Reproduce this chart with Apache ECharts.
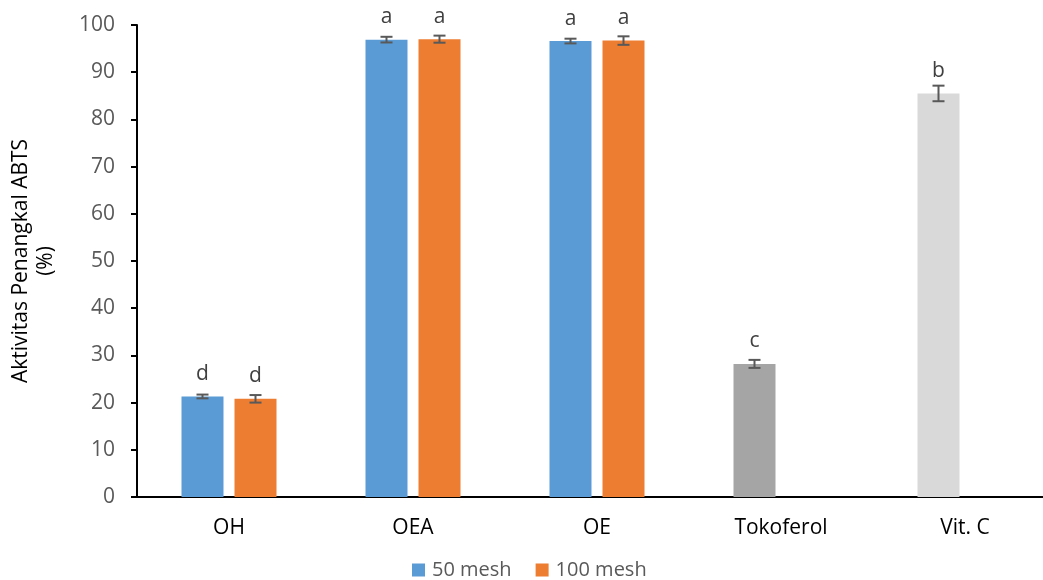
<!DOCTYPE html>
<html>
<head>
<meta charset="utf-8">
<script src="https://cdn.jsdelivr.net/npm/echarts@6/dist/echarts.min.js"></script>
<style>
  html, body { margin: 0; padding: 0; background: #fff; }
  #chart { width: 1043px; height: 580px; }
</style>
</head>
<body>
<div id="chart"></div>
<script>
// ABTS scavenging activity (%) per sample, mean and standard deviation
const categories = ['OH', 'OEA', 'OE', 'Tokoferol', 'Vit. C'];
const mesh50 = [21.3, 96.9, 96.6, 28.2, 85.5];
const mesh100 = [20.8, 97.0, 96.7, null, null];
const sd50 = [0.4, 0.6, 0.5, 0.85, 1.65];
const sd100 = [0.8, 0.75, 0.9, null, null];
// significance letters above each bar
const letters50 = ['d', 'a', 'a', 'c', 'b'];
const letters100 = ['d', 'a', 'a', '', ''];
const seriesNames = ['50 mesh', '100 mesh'];

// styling
const FONT = '"Open Sans", "Noto Sans", sans-serif';
const FS = 21;
const COLOR_50 = '#5B9BD5';
const COLOR_100 = '#ED7D31';
const REF_COLORS = { 3: '#A5A5A5', 4: '#D9D9D9' };
const BAR_W = 42;
const BAR_GAP = 11;
const SLOT = (BAR_W + BAR_GAP) / 2;

function barData(values, colorMap) {
  return values.map((v, i) =>
    colorMap && colorMap[i] ? { value: v, itemStyle: { color: colorMap[i] } } : v
  );
}

// standard-deviation whiskers drawn on top of a bar series
function errorBars(values, sds, offset) {
  const data = [];
  values.forEach((v, i) => { if (v != null && sds[i] != null) data.push([i, v, sds[i]]); });
  return {
    type: 'custom',
    silent: true,
    z: 5,
    encode: { x: 0, y: 1 },
    data: data,
    renderItem: function (params, api) {
      const i = api.value(0), v = api.value(1), e = api.value(2);
      const hi = api.coord([i, v + e]);
      const lo = api.coord([i, v - e]);
      const x = hi[0] + offset;
      const cap = 6;
      const style = { stroke: '#595959', lineWidth: 2 };
      return {
        type: 'group',
        children: [
          { type: 'line', shape: { x1: x, y1: hi[1], x2: x, y2: lo[1] }, style: style },
          { type: 'line', shape: { x1: x - cap, y1: hi[1], x2: x + cap, y2: hi[1] }, style: style },
          { type: 'line', shape: { x1: x - cap, y1: lo[1], x2: x + cap, y2: lo[1] }, style: style }
        ]
      };
    }
  };
}

const letterLabel = (letters) => ({
  show: true,
  position: 'top',
  distance: 12,
  color: '#404040',
  fontFamily: FONT,
  fontSize: FS,
  formatter: (p) => letters[p.dataIndex]
});

const chart = echarts.init(document.getElementById('chart'), null, { renderer: 'canvas' });
chart.setOption({
  animation: false,
  backgroundColor: '#fff',
  textStyle: { fontFamily: FONT },
  grid: {
    left: 137, top: 25, width: 920, height: 472,
    containLabel: false,
    outerBoundsMode: 'none'
  },
  legend: {
    data: seriesNames,
    left: 412,
    top: 558,
    padding: 0,
    icon: 'rect',
    itemWidth: 13,
    itemHeight: 13,
    itemGap: 24,
    textStyle: { color: '#595959', fontSize: 20, lineHeight: 24, fontFamily: FONT, padding: [0, 0, 0, 2] }
  },
  xAxis: {
    type: 'category',
    data: categories,
    axisLine: { lineStyle: { color: '#000', width: 2 } },
    axisTick: { show: false },
    axisLabel: { color: '#000', fontSize: FS, fontFamily: FONT, margin: 21 },
    splitLine: { show: false }
  },
  yAxis: {
    type: 'value',
    min: 0,
    max: 100,
    interval: 10,
    name: 'Aktivitas Penangkal ABTS\n(%)',
    nameLocation: 'middle',
    nameRotate: 90,
    nameGap: 78,
    nameTextStyle: { color: '#000', fontSize: FS, lineHeight: 25, fontFamily: FONT },
    axisLine: { show: true, lineStyle: { color: '#000', width: 2 } },
    axisTick: { show: true, length: 6, lineStyle: { color: '#000', width: 2 } },
    axisLabel: { color: '#595959', fontSize: FS, fontFamily: FONT, margin: 22 },
    splitLine: { show: false }
  },
  series: [
    {
      name: seriesNames[0],
      type: 'bar',
      barWidth: BAR_W,
      barGap: (BAR_GAP / BAR_W * 100).toFixed(1) + '%',
      itemStyle: { color: COLOR_50 },
      data: barData(mesh50, REF_COLORS),
      label: letterLabel(letters50)
    },
    {
      name: seriesNames[1],
      type: 'bar',
      barWidth: BAR_W,
      barGap: (BAR_GAP / BAR_W * 100).toFixed(1) + '%',
      itemStyle: { color: COLOR_100 },
      data: barData(mesh100),
      label: letterLabel(letters100)
    },
    errorBars(mesh50, sd50, -SLOT),
    errorBars(mesh100, sd100, SLOT)
  ]
});
</script>
</body>
</html>
